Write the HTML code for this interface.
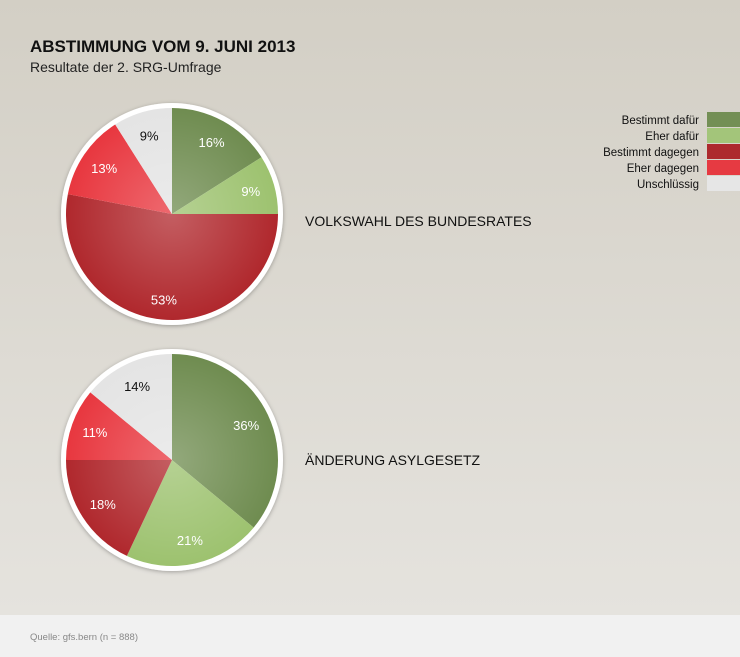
<!DOCTYPE html>
<html><head><meta charset="utf-8"><style>
body{margin:0;width:740px;height:657px;overflow:hidden;font-family:"Liberation Sans",sans-serif;}
.bg{position:absolute;left:0;top:0;width:740px;height:615px;background:linear-gradient(#d3cfc5,#e5e3de);}
.ft{position:absolute;left:0;top:615px;width:740px;height:42px;background:#f1f1f1;}
</style></head><body>
<div class="bg"></div><div class="ft"></div>
<svg width="740" height="657" style="position:absolute;left:0;top:0">
<defs>
<radialGradient id="sh" cx="172" cy="214" r="106" gradientUnits="userSpaceOnUse"><stop offset="0" stop-color="#fff" stop-opacity="0.25"/><stop offset="1" stop-color="#fff" stop-opacity="0"/></radialGradient>
<radialGradient id="sh2" cx="172" cy="460" r="106" gradientUnits="userSpaceOnUse"><stop offset="0" stop-color="#fff" stop-opacity="0.25"/><stop offset="1" stop-color="#fff" stop-opacity="0"/></radialGradient>
<filter id="ds"><feDropShadow dx="0" dy="1" stdDeviation="2" flood-opacity="0.3"/></filter>
</defs>
<text x="30" y="52" font-size="17" font-weight="bold" fill="#111">ABSTIMMUNG VOM 9. JUNI 2013</text>
<text x="30" y="72" font-size="14" fill="#222">Resultate der 2. SRG-Umfrage</text>
<g id="p1"></g><g id="p2"></g>
<text x="305" y="226" font-size="14" fill="#111">VOLKSWAHL DES BUNDESRATES</text>
<text x="305" y="465" font-size="14" fill="#111">ÄNDERUNG ASYLGESETZ</text>
<g font-size="11.5" fill="#111" text-anchor="end">
<text x="699" y="124">Bestimmt dafür</text>
<text x="699" y="140">Eher dafür</text>
<text x="699" y="156">Bestimmt dagegen</text>
<text x="699" y="172">Eher dagegen</text>
<text x="699" y="188">Unschlüssig</text>
</g>
<rect x="707" y="112" width="33" height="15" fill="#738f55"/>
<rect x="707" y="128" width="33" height="15" fill="#a3c57a"/>
<rect x="707" y="144" width="33" height="15" fill="#ad2a2e"/>
<rect x="707" y="160" width="33" height="15" fill="#e63a42"/>
<rect x="707" y="176" width="33" height="15" fill="#e6e6e6"/>
<text x="30" y="640" font-size="9.5" fill="#888">Quelle: gfs.bern (n = 888)</text>
</svg>
<script>
const cols=["#6f8c50","#9dc26f","#b0282d","#e8373f","#e4e4e4"];
const txt=["#fff","#fff","#fff","#fff","#111"];
function pie(id,cx,cy,vals,grad){
 const g=document.getElementById(id);let s='<circle cx="'+cx+'" cy="'+cy+'" r="111" fill="#fff" filter="url(#ds)"/>';
 const r=106;let a=0;let lbl='';
 vals.forEach((v,i)=>{const a0=a/100*2*Math.PI,a1=(a+v)/100*2*Math.PI;
  const x0=cx+r*Math.sin(a0),y0=cy-r*Math.cos(a0),x1=cx+r*Math.sin(a1),y1=cy-r*Math.cos(a1);
  s+='<path d="M'+cx+','+cy+'L'+x0+','+y0+'A'+r+','+r+' 0 '+(v>50?1:0)+' 1 '+x1+','+y1+'Z" fill="'+cols[i]+'"/>';
  const m=(a+v/2)/100*2*Math.PI, lr=v>40?86:82;
  lbl+='<text x="'+(cx+lr*Math.sin(m))+'" y="'+(cy-lr*Math.cos(m)+5)+'" font-size="13" fill="'+txt[i]+'" text-anchor="middle">'+v+'%</text>';
  a+=v;});
 s+='<circle cx="'+cx+'" cy="'+cy+'" r="'+r+'" fill="url(#'+grad+')"/>'+lbl;
 g.innerHTML=s;}
pie("p1",172,214,[16,9,53,13,9],"sh");
pie("p2",172,460,[36,21,18,11,14],"sh2");
</script>
</body></html>
